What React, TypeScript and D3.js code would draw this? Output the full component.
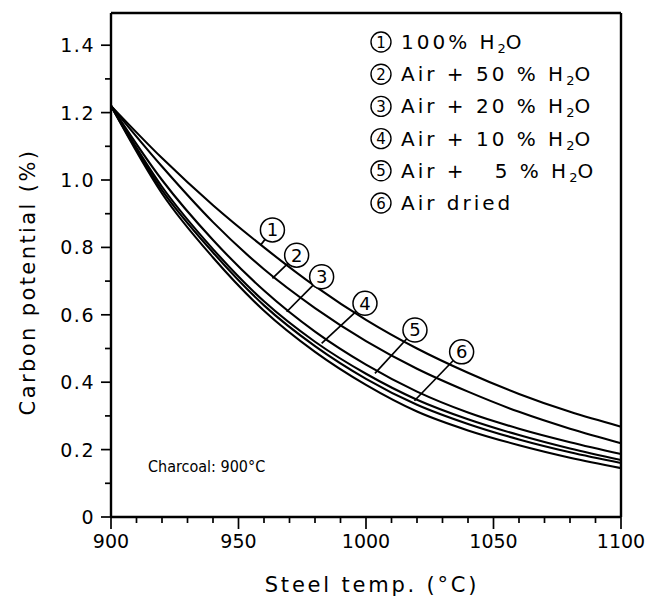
import React from "react";
import * as d3 from "d3";

const temps = [900, 920, 940, 960, 980, 1000, 1020, 1040, 1060, 1080, 1100];
const curve1 = [1.22, 1.065, 0.925, 0.8, 0.685, 0.585, 0.5, 0.428, 0.365, 0.312, 0.268];
const curve2 = [1.22, 1.04, 0.875, 0.735, 0.62, 0.522, 0.44, 0.372, 0.312, 0.262, 0.219];
const curve3 = [1.22, 1.0, 0.822, 0.672, 0.55, 0.452, 0.372, 0.31, 0.262, 0.222, 0.187];
const curve4 = [1.22, 0.98, 0.795, 0.64, 0.52, 0.425, 0.348, 0.29, 0.243, 0.203, 0.169];
const curve5 = [1.22, 0.97, 0.785, 0.628, 0.507, 0.41, 0.333, 0.276, 0.23, 0.192, 0.16];
const curve6 = [1.22, 0.96, 0.77, 0.612, 0.49, 0.392, 0.313, 0.257, 0.213, 0.176, 0.145];
const series = [curve1, curve2, curve3, curve4, curve5, curve6];

const legendNums = ["1", "2", "3", "4", "5", "6"];
const legendMain = ["100% H", "Air + 50 % H", "Air + 20 % H", "Air + 10 % H", "Air +   5 % H", "Air dried"];
const legendHasH2O = [true, true, true, true, true, false];

// callout annotations (leader end on curve, circle centre)
const leaderEndTemps = [958.7, 963.3, 968.9, 982.6, 1003.5, 1019];
const leaderEndVals = [0.807, 0.708, 0.609, 0.515, 0.426, 0.345];
const circleTemps = [963.3, 972.8, 982.6, 999.6, 1019.2, 1037.5];
const circleVals = [0.852, 0.777, 0.713, 0.634, 0.555, 0.49];

const xTicksMajor = [900, 950, 1000, 1050, 1100];
const yTicksMajor = [0, 0.2, 0.4, 0.6, 0.8, 1.0, 1.2, 1.4];
const yTickLabels = ["0", "0.2", "0.4", "0.6", "0.8", "1.0", "1.2", "1.4"];

const W = 647;
const H = 608;
const left = 111;
const right = 621;
const bottom = 517;
const top = 13;

export default function App() {
  const x = d3.scaleLinear().domain([900, 1100]).range([left, right]);
  const y = d3.scaleLinear().domain([0, 1.5]).range([bottom, bottom - 1.5 * 337]);
  const line = d3
    .line<number>()
    .x((_, i) => x(temps[i]))
    .y((d) => y(d))
    .curve(d3.curveMonotoneX);

  const minorX = d3.range(900, 1101, 10);
  const minorY = d3.range(0, 15, 1).map((v) => v / 10);
  const font = "'DejaVu Sans', sans-serif";
  const labelR = 12;

  return (
    <svg width={W} height={H} style={{ display: "block", position: "absolute", left: 0, top: 0, background: "#fff" }}>
      <rect width={W} height={H} fill="#fff" />
      {/* frame */}
      <g stroke="#000" strokeWidth={2.4} fill="none">
        <line x1={left} y1={top} x2={left} y2={bottom} />
        <line x1={left} y1={bottom} x2={right} y2={bottom} />
        <line x1={left} y1={top} x2={right} y2={top} />
        <line x1={right} y1={top} x2={right} y2={bottom} />
      </g>
      {/* x ticks */}
      <g stroke="#000" strokeWidth={1.7}>
        {minorX.map((t) => {
          const major = t % 50 === 0;
          return <line key={t} x1={x(t)} x2={x(t)} y1={bottom} y2={bottom + (major ? 12 : 6)} />;
        })}
      </g>
      {/* y ticks */}
      <g stroke="#000" strokeWidth={1.7}>
        {minorY.map((v, i) => {
          const major = i % 2 === 0;
          return <line key={i} x1={left} x2={left - (major ? 10 : 6)} y1={y(v)} y2={y(v)} />;
        })}
      </g>
      {/* tick labels */}
      <g fontFamily={font} fontSize={19} fill="#000">
        {xTicksMajor.map((t) => (
          <text key={t} x={x(t)} y={bottom + 31} textAnchor="middle">
            {t}
          </text>
        ))}
        {yTicksMajor.map((v, i) => (
          <text key={v} x={left - 16} y={y(v) + 7} textAnchor="end" letterSpacing={1.5}>
            {yTickLabels[i]}
          </text>
        ))}
      </g>
      {/* axis titles */}
      <text x={372} y={592} textAnchor="middle" fontFamily={font} fontSize={21} letterSpacing={2.8}>
        Steel temp. (°C)
      </text>
      <text
        transform={`translate(35, 282) rotate(-90)`}
        textAnchor="middle"
        fontFamily={font}
        fontSize={21}
        letterSpacing={2.4}
      >
        Carbon potential (%)
      </text>
      {/* curves */}
      <g fill="none" stroke="#000" strokeWidth={2.1}>
        {series.map((s, i) => (
          <path key={i} d={line(s) || ""} />
        ))}
      </g>
      {/* callouts */}
      <g fontFamily={font} fontSize={18}>
        {legendNums.map((n, i) => {
          const cx = x(circleTemps[i]);
          const cy = y(circleVals[i]);
          const ex = x(leaderEndTemps[i]);
          const ey = y(leaderEndVals[i]);
          const dx = cx - ex;
          const dy = cy - ey;
          const len = Math.sqrt(dx * dx + dy * dy);
          const sx = cx - (dx / len) * labelR;
          const sy = cy - (dy / len) * labelR;
          return (
            <g key={n}>
              <line x1={ex} y1={ey} x2={sx} y2={sy} stroke="#000" strokeWidth={1.7} />
              <circle cx={cx} cy={cy} r={labelR} fill="#fff" stroke="#000" strokeWidth={1.5} />
              <text x={cx} y={cy + 6.5} textAnchor="middle">
                {n}
              </text>
            </g>
          );
        })}
      </g>
      {/* legend */}
      <g fontFamily={font} fontSize={20}>
        {legendNums.map((n, i) => {
          const ry = 42 + i * 32.2;
          return (
            <g key={n}>
              <circle cx={381} cy={ry} r={10} fill="none" stroke="#000" strokeWidth={1.4} />
              <text x={381} y={ry + 5.5} textAnchor="middle" fontSize={15}>
                {n}
              </text>
              <text x={401} y={ry + 7} letterSpacing={3} style={{ whiteSpace: "pre" }}>
                {legendMain[i]}
                {legendHasH2O[i] ? (
                  <>
                    <tspan fontSize={13} dy={4} letterSpacing={0}>
                      2
                    </tspan>
                    <tspan dy={-4}>O</tspan>
                  </>
                ) : null}
              </text>
            </g>
          );
        })}
      </g>
      <text x={148} y={472} fontFamily="'DejaVu Sans Condensed', 'DejaVu Sans', sans-serif" fontSize={16}>
        Charcoal: 900°C
      </text>
    </svg>
  );
}
